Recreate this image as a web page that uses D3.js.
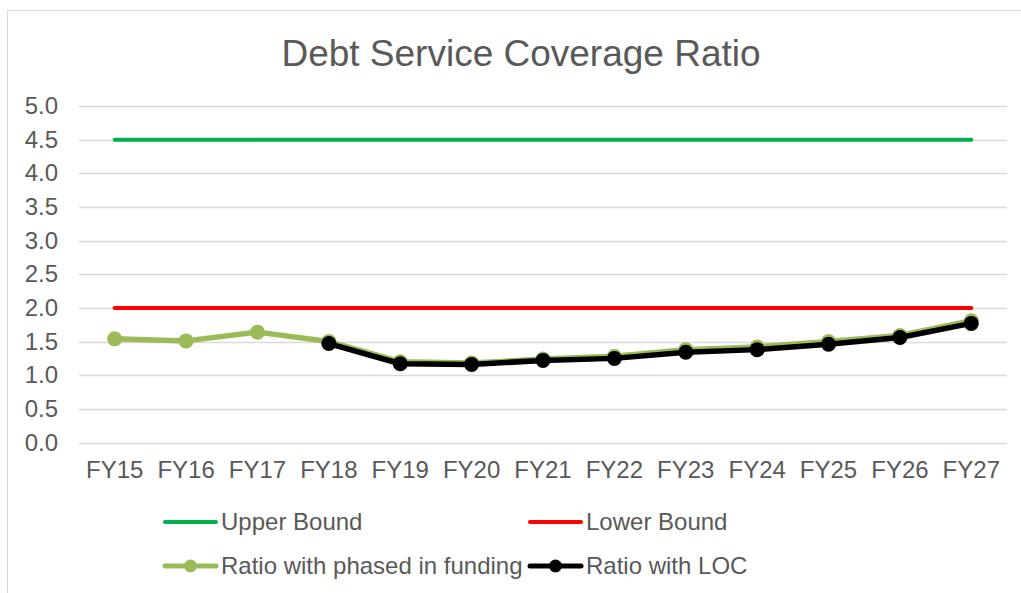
<!DOCTYPE html>
<html>
<head>
<meta charset="utf-8">
<script src="https://cdn.jsdelivr.net/npm/d3@7"></script>
<style>
  body { margin: 0; background: #fff; }
  svg { display: block; font-family: "Liberation Sans", Arial, sans-serif; }
</style>
</head>
<body>
<div id="chart"></div>
<script>
// data
var years = ["FY15","FY16","FY17","FY18","FY19","FY20","FY21","FY22","FY23","FY24","FY25","FY26","FY27"];
var upperBound = [4.5,4.5,4.5,4.5,4.5,4.5,4.5,4.5,4.5,4.5,4.5,4.5,4.5];
var lowerBound = [2.0,2.0,2.0,2.0,2.0,2.0,2.0,2.0,2.0,2.0,2.0,2.0,2.0];
var phasedFunding = [1.54,1.51,1.64,1.50,1.20,1.18,1.24,1.28,1.38,1.42,1.50,1.59,1.81];
var withLOC = [null,null,null,1.47,1.17,1.16,1.22,1.25,1.34,1.38,1.46,1.56,1.77];
var yTicks = [0,0.5,1,1.5,2,2.5,3,3.5,4,4.5,5];

var W = 1021, H = 593;
var textColor = "#595959";
var fontFam = "'Liberation Sans', Arial, sans-serif";

var svg = d3.select("#chart").append("svg")
  .attr("width", W).attr("height", H);

// chart area border (runs off the right and bottom edges)
svg.append("rect")
  .attr("x", 7.5).attr("y", 10.5)
  .attr("width", 1040).attr("height", 600)
  .attr("fill", "#fff").attr("stroke", "#d9d9d9").attr("stroke-width", 1);

svg.append("text")
  .attr("x", 521).attr("y", 66)
  .attr("text-anchor", "middle")
  .attr("fill", textColor)
  .style("font-size", "37px")
  .text("Debt Service Coverage Ratio");

var x = d3.scaleBand().domain(years).range([79, 1007]);
var y = d3.scaleLinear().domain([0, 5]).range([442.5, 106]);
function cx(d) { return x(d) + x.bandwidth() / 2; }

// gridlines
svg.append("g").selectAll("line")
  .data(yTicks).enter().append("line")
  .attr("x1", 79).attr("x2", 1007)
  .attr("y1", function(d){ return Math.round(y(d)) + 0.5; })
  .attr("y2", function(d){ return Math.round(y(d)) + 0.5; })
  .attr("stroke", "#d9d9d9").attr("stroke-width", 1.5);

// y axis labels
var yAxis = svg.append("g")
  .attr("transform", "translate(67,0)")
  .call(d3.axisLeft(y).tickValues(yTicks).tickFormat(d3.format(".1f")).tickSize(0).tickPadding(9));
yAxis.select(".domain").remove();
yAxis.selectAll("text").attr("fill", textColor).style("font-size", "24px")
  .style("font-family", fontFam);

// x axis labels
var xAxis = svg.append("g")
  .attr("transform", "translate(0,450)")
  .call(d3.axisBottom(x).tickSize(0).tickPadding(11));
xAxis.select(".domain").remove();
xAxis.selectAll("text").attr("fill", textColor).style("font-size", "24px")
  .style("font-family", fontFam);

function series(values, color, width, markers, r) {
  var pts = years.map(function(d, i){ return {k: d, v: values[i]}; })
    .filter(function(p){ return p.v !== null; });
  var line = d3.line()
    .x(function(p){ return cx(p.k); })
    .y(function(p){ return y(p.v); });
  svg.append("path").datum(pts)
    .attr("d", line)
    .attr("fill", "none")
    .attr("stroke", color)
    .attr("stroke-width", width)
    .attr("stroke-linecap", "round")
    .attr("stroke-linejoin", "round");
  if (markers) {
    svg.append("g").selectAll("circle")
      .data(pts).enter().append("circle")
      .attr("cx", function(p){ return cx(p.k); })
      .attr("cy", function(p){ return y(p.v); })
      .attr("r", r)
      .attr("fill", color);
  }
}

series(upperBound, "#00b050", 4, false);
series(lowerBound, "#ff0000", 4, false);
series(phasedFunding, "#9bbb59", 5.5, true, 7.5);
series(withLOC, "#000000", 5.5, true, 7.5);

// legend
var legend = [
  {name: "Upper Bound", color: "#00b050", x: 163, y: 522, marker: false},
  {name: "Lower Bound", color: "#ff0000", x: 528, y: 522, marker: false},
  {name: "Ratio with phased in funding", color: "#9bbb59", x: 163, y: 566, marker: true},
  {name: "Ratio with LOC", color: "#000000", x: 528, y: 566, marker: true}
];
var lg = svg.append("g").selectAll("g").data(legend).enter().append("g")
  .attr("transform", function(d){ return "translate(" + d.x + "," + d.y + ")"; });
lg.append("line")
  .attr("x1", 2).attr("x2", 53)
  .attr("stroke", function(d){ return d.color; })
  .attr("stroke-width", function(d){ return d.marker ? 5 : 4; })
  .attr("stroke-linecap", "round");
lg.filter(function(d){ return d.marker; }).append("circle")
  .attr("cx", 27.5).attr("r", 6.5)
  .attr("fill", function(d){ return d.color; });
lg.append("text")
  .attr("x", 58).attr("dy", "0.35em")
  .attr("fill", textColor)
  .style("font-size", "24px")
  .text(function(d){ return d.name; });
</script>
</body>
</html>
